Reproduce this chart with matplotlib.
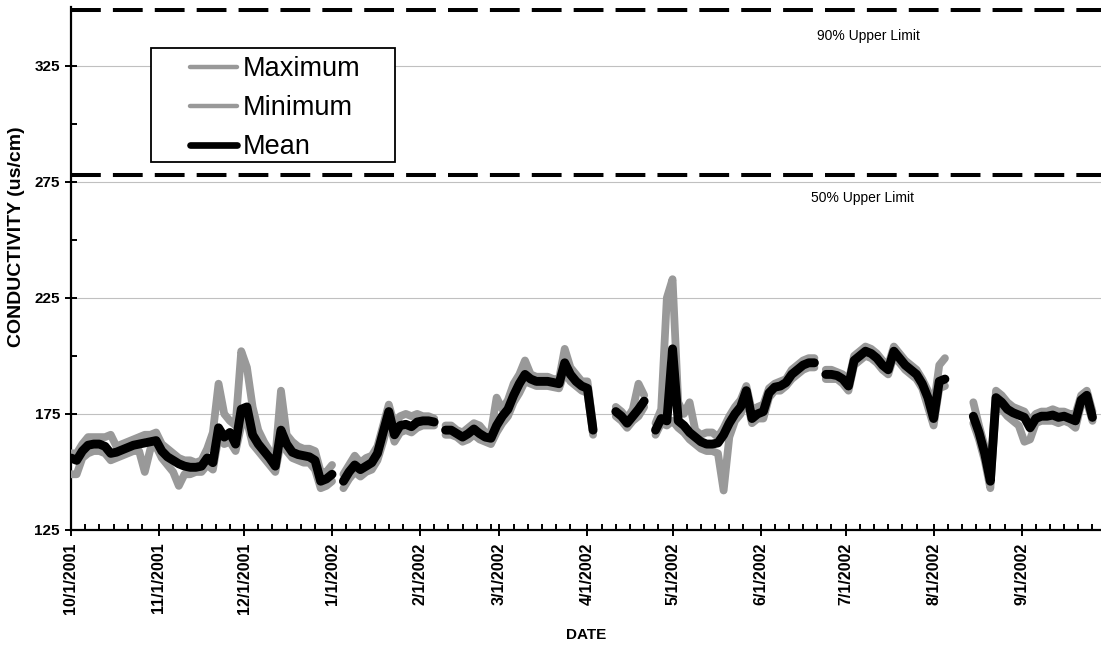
import numpy as np
import pandas as pd
import matplotlib
matplotlib.use("Agg")
import matplotlib.pyplot as plt
import matplotlib.dates as mdates
from matplotlib.patches import Rectangle
from matplotlib.ticker import FixedLocator, FuncFormatter

nan = np.nan

# Conductivity readings, one sample every second day starting 10/1/2001
start_date = "2001-10-01"
step_days = 2

mean_vals = [
    156, 155, 159, 161.5, 162, 162, 161, 158, 158.5, 159.5,
    160.5, 161.5, 162, 162.5, 163, 163.5, 159, 156.5, 155, 153.5,
    152.5, 152, 152, 152.5, 156, 154, 169, 165, 167, 162,
    177, 178, 166, 162, 159, 156, 152.5, 168, 162, 158.5,
    157.5, 157, 156.5, 155, 146, 147, 149, nan, 146, 150,
    153, 151, 152.5, 154, 158, 167, 176, 166, 170, 170.5,
    169.5, 171.5, 172, 172, 171.5, nan, 168, 168, 166.5, 165,
    166.5, 168.5, 166.5, 165, 164.5, 170, 174, 177, 183, 188,
    192, 190, 189, 189, 189, 188.5, 188, 197, 192, 189,
    187, 186, 168, nan, nan, nan, 176, 174, 171, 174,
    177, 180.5, nan, 168, 173, 172, 203, 172, 170, 167,
    165, 163, 162, 162, 162.5, 166, 171, 175, 178, 185,
    173, 175, 176, 184, 186.5, 187, 188.5, 192, 194, 196,
    197, 197, nan, 192, 192, 191.5, 190, 187, 198, 200,
    202, 201, 199, 196, 194, 202, 199, 196, 194, 192,
    188, 182, 173, 189, 190, nan, nan, nan, nan, 174,
    167, 158, 146, 182, 180, 177, 175.5, 174.5, 173.5, 169,
    173, 174, 174, 174.5, 173.5, 174, 173, 172, 181, 183,
    173.5,
]

max_vals = [
    158, 158, 162, 165, 165, 165, 165, 166, 161, 162,
    163, 164, 165, 166, 166, 167, 162, 160, 158, 156,
    155, 155, 154, 155, 160, 167, 188, 175, 172, 170,
    202, 195, 178, 168, 163, 159, 156, 185, 166, 163,
    161, 160, 160, 159, 150, 150, 153, nan, 149, 153,
    157, 154, 156, 157, 161, 170, 179, 170, 174, 175,
    174, 175, 174, 174, 173, nan, 170, 170, 168, 167,
    169, 171, 170, 167, 167, 182, 177, 181, 188, 192,
    198, 192, 191, 191, 191, 190, 190, 203, 195, 192,
    189, 189, 170, nan, nan, nan, 178, 176, 173, 177,
    188, 183, nan, 171, 177, 225, 233, 180, 175, 180,
    168, 166, 167, 167, 165, 169, 174, 178, 181, 187,
    176, 178, 179, 186, 188, 189, 190, 194, 196, 198,
    199, 199, nan, 194, 194, 193, 192, 189, 200, 202,
    204, 203, 201, 198, 196, 204, 201, 198, 196, 194,
    190, 185, 178, 196, 199, nan, nan, nan, nan, 180,
    170, 161, 149, 185, 183, 180, 178, 177, 176, 172,
    175, 176, 176, 177, 176, 176, 175, 175, 183, 185,
    176,
]

min_vals = [
    149, 149, 156, 158, 159, 159, 158, 155, 156, 157,
    158, 159, 159, 150, 160, 161, 156, 153, 150, 144,
    149, 149, 150, 150, 153, 151, 165, 162, 163, 159,
    170, 172, 162, 159, 156, 153, 150, 163, 159, 156,
    155, 154, 154, 151, 143, 144, 146, nan, 143, 147,
    150, 148, 150, 151, 155, 163, 172, 163, 167, 168,
    167, 169, 170, 170, 170, nan, 166, 166, 165, 163,
    164, 166, 164, 163, 162, 167, 171, 174, 180, 184,
    189, 188, 187, 187, 187, 186.5, 186, 193, 189, 187,
    185, 184, 166, nan, nan, nan, 174, 172, 169, 172,
    174, 178, nan, 166, 171, 170, 172, 169, 167, 164,
    162, 160, 159, 159, 158, 142, 165, 172, 175, 182,
    171, 173, 173, 182, 185, 185, 187, 190, 192, 194,
    195, 195, nan, 190, 190, 190, 188, 185, 196, 198,
    200, 199, 197, 194, 192, 200, 197, 194, 192, 190,
    186, 178, 170, 186, 187, nan, nan, nan, nan, 171,
    164, 155, 143, 179, 177, 174, 172, 170, 163, 164,
    171, 172, 172, 172, 171, 172, 171, 169, 179, 180,
    172,
]

limit_90 = 349
limit_50 = 278

dates = pd.date_range(start_date, periods=len(mean_vals), freq=f"{step_days}D")

plt.rcParams["font.family"] = ["Liberation Sans", "DejaVu Sans"]

W, H = 1101, 647
fig = plt.figure(figsize=(W / 100, H / 100), dpi=100)
ax = fig.add_axes([71 / W, 1 - 530 / H, 1 - 71 / W, (530 - 7.5) / H])

gray = "#999999"
line_kw = dict(solid_capstyle="round", solid_joinstyle="round")
ax.plot(dates, max_vals, color=gray, lw=5.6, label="Maximum", zorder=3, **line_kw)
ax.plot(dates, min_vals, color=gray, lw=5.6, label="Minimum", zorder=3, **line_kw)
ax.plot(dates, mean_vals, color="black", lw=6.4, label="Mean", zorder=4, **line_kw)

# Upper limit reference lines
for lim in (limit_90, limit_50):
    ax.axhline(lim, color="black", lw=2.9, dashes=(7.4, 3.0), zorder=5)
ax.text(0.774, 337.7, "90% Upper Limit", transform=ax.get_yaxis_transform(),
        ha="center", va="center", fontsize=10)
ax.text(0.768, 268, "50% Upper Limit", transform=ax.get_yaxis_transform(),
        ha="center", va="center", fontsize=10)

ax.set_ylim(125, 350)
ax.set_xlim(pd.Timestamp("2001-10-01"), pd.Timestamp("2002-09-29"))

# Axes styling
for side in ("top", "right"):
    ax.spines[side].set_visible(False)
for side in ("left", "bottom"):
    ax.spines[side].set_linewidth(1.6)

ax.yaxis.set_major_locator(FixedLocator([125, 175, 225, 275, 325]))
ax.yaxis.set_minor_locator(FixedLocator([150, 200, 250, 300]))
ax.grid(axis="y", which="major", color="#c0c0c0", lw=0.8, zorder=0)
ax.set_axisbelow(True)

ax.xaxis.set_major_locator(mdates.MonthLocator(bymonthday=1))
ax.xaxis.set_minor_locator(mdates.DayLocator(bymonthday=[6, 11, 16, 21, 26]))
ax.xaxis.set_major_formatter(FuncFormatter(
    lambda v, p: (lambda d: f"{d.month}/{d.day}/{d.year}")(mdates.num2date(v))))

ax.tick_params(axis="both", which="major", direction="inout", length=8, width=1.4)
ax.tick_params(axis="both", which="minor", direction="in", length=4, width=1.4)
ax.tick_params(axis="x", which="major", labelsize=11.5, pad=5)
ax.tick_params(axis="y", which="major", labelsize=11, pad=4)
for lbl in ax.get_xticklabels():
    lbl.set_rotation(90)
    lbl.set_fontweight("bold")
for lbl in ax.get_yticklabels():
    lbl.set_fontweight("bold")

ax.set_ylabel("CONDUCTIVITY (us/cm)", fontsize=14, fontweight="bold")
ax.yaxis.label.set_va("center")
ax.yaxis.set_label_coords((17 - 71) / 1030, (530 - 237) / 522.5)
ax.set_xlabel("DATE", fontsize=11, fontweight="bold")
ax.xaxis.set_label_coords(0.5, (530 - 628) / 522.5)

# Legend box
box = Rectangle((151 / W, 1 - 162 / H), 244 / W, 114 / H, transform=fig.transFigure,
                facecolor="white", edgecolor="black", lw=1.3, zorder=6)
ax.add_artist(box)
leg = ax.legend(loc="upper left", bbox_to_anchor=(190 / W, 1 - 56 / H),
                bbox_transform=fig.transFigure, fontsize=19.5, frameon=False,
                handlelength=1.75, handletextpad=0.18, labelspacing=0.48,
                borderpad=0, borderaxespad=0)
leg.set_zorder(7)
for h, w in zip(leg.get_lines(), (3.2, 3.2, 4.8)):
    h.set_linewidth(w)

fig.savefig("out.png", dpi=100)
